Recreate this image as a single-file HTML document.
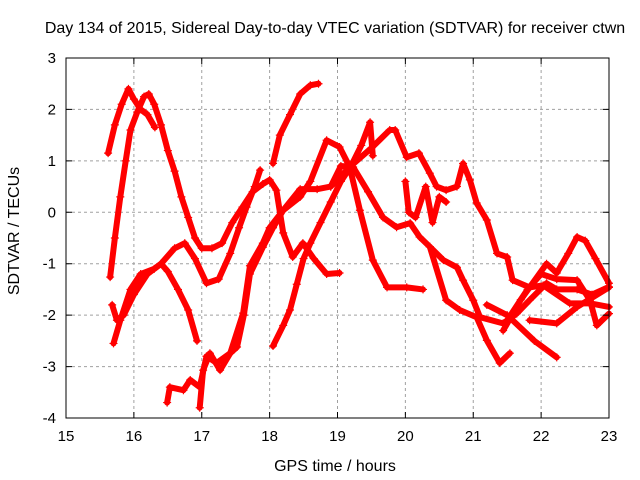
<!DOCTYPE html>
<html><head><meta charset="utf-8"><style>
body{margin:0;background:#fff}
svg{display:block;font-family:"Liberation Sans",sans-serif}
</style></head><body>
<svg id="chart" width="640" height="480" xmlns="http://www.w3.org/2000/svg">
<rect width="640" height="480" fill="#fff"/>
<text x="335" y="33" font-size="16" text-anchor="middle">Day 134 of 2015, Sidereal Day-to-day VTEC variation (SDTVAR) for receiver ctwn</text>
<text x="335" y="471" font-size="16" text-anchor="middle">GPS time / hours</text>
<text x="19" y="231" font-size="16" text-anchor="middle" transform="rotate(-90 19 231)">SDTVAR / TECUs</text>
<g id="grid"></g><g id="series"></g><g id="axes"></g>
</svg>
<script>
const xTicks=[15,16,17,18,19,20,21,22,23];
const yTicks=[-4,-3,-2,-1,0,1,2,3];
const sA=[[15.62,1.15],[15.72,1.7],[15.82,2.1],[15.92,2.4],[16.0,2.2],[16.1,2.0],[16.2,1.9],[16.31,1.65]];
const sB=[[15.65,-1.26],[15.72,-0.5],[15.8,0.3],[15.88,1.0],[15.95,1.6],[16.05,1.95],[16.15,2.25],[16.22,2.3],[16.3,2.1],[16.4,1.7],[16.5,1.2],[16.6,0.8],[16.7,0.3],[16.8,-0.1],[16.9,-0.5],[17.0,-0.7],[17.15,-0.7],[17.3,-0.6],[17.45,-0.2],[17.6,0.1],[17.75,0.4],[17.9,0.55],[18.0,0.63],[18.1,0.43],[18.2,-0.4],[18.34,-0.87],[18.49,-0.6],[18.65,-0.9],[18.84,-1.2],[19.03,-1.18]];
const sC=[[15.68,-1.8],[15.75,-2.1],[15.85,-2.0],[16.0,-1.6],[16.2,-1.2],[16.4,-1.0],[16.6,-0.7],[16.75,-0.6],[16.9,-0.9],[17.07,-1.38],[17.25,-1.3],[17.42,-0.8],[17.55,-0.3],[17.66,0.1],[17.78,0.5],[17.86,0.82]];
const sD=[[15.7,-2.55],[15.8,-2.1],[15.95,-1.5],[16.1,-1.2],[16.3,-1.1],[16.4,-1.0],[16.5,-1.15],[16.65,-1.5],[16.8,-1.9],[16.93,-2.5]];
const sE=[[16.49,-3.7],[16.53,-3.4],[16.73,-3.46],[16.83,-3.26],[16.97,-3.4],[17.07,-2.8],[17.22,-2.93],[17.42,-2.74],[17.52,-2.62],[17.62,-2.0],[17.71,-1.2],[17.9,-0.68],[18.05,-0.3],[18.2,0.04],[18.45,0.45],[18.7,0.45],[18.9,0.5],[19.18,0.88],[19.5,1.25],[19.77,1.6],[19.85,1.6],[20.02,1.07],[20.2,1.15],[20.36,0.76],[20.46,0.5],[20.6,0.43],[20.76,0.5],[20.85,0.95],[20.95,0.63],[21.05,0.18],[21.2,-0.15],[21.35,-0.8],[21.5,-0.87],[21.58,-1.32],[21.83,-1.46],[22.03,-1.42],[22.42,-1.77],[22.72,-1.77],[23.0,-1.84]];
const sF=[[16.97,-3.8],[17.02,-3.07],[17.12,-2.74],[17.27,-3.07],[17.42,-2.74],[17.61,-1.96],[17.71,-1.04],[17.9,-0.6],[18.0,-0.3],[18.2,0.04],[18.45,0.3],[18.6,0.6],[18.84,1.4],[19.03,1.27],[19.18,0.88],[19.33,0.04],[19.52,-0.93],[19.73,-1.46],[20.02,-1.46],[20.26,-1.5]];
const sG=[[18.05,0.95],[18.15,1.5],[18.3,1.9],[18.45,2.3],[18.6,2.47],[18.72,2.5]];
const sH=[[18.05,-2.6],[18.2,-2.2],[18.3,-1.9],[18.4,-1.4],[18.5,-0.9],[18.6,-0.6],[18.75,-0.2],[18.9,0.2],[19.05,0.6],[19.2,0.9],[19.35,1.3],[19.48,1.75],[19.52,1.1]];
const sI=[[18.9,0.5],[19.05,0.9],[19.23,0.88],[19.45,0.4],[19.67,-0.1],[19.87,-0.29],[20.07,-0.21],[20.21,-0.48],[20.36,-0.67],[20.56,-0.93],[20.76,-1.07],[20.85,-1.32],[21.0,-1.71],[21.1,-2.04],[21.44,-2.16],[21.64,-1.97],[21.83,-1.71],[22.08,-1.38],[22.23,-1.5],[22.53,-1.5],[22.75,-1.6],[23.0,-1.45]];
const sJ=[[20.36,-0.67],[20.6,-1.71],[20.8,-1.9],[21.05,-2.04],[21.2,-2.49],[21.39,-2.93],[21.54,-2.74]];
const sK=[[21.44,-2.3],[21.7,-1.7],[22.08,-1.0],[22.23,-1.18],[22.4,-0.8],[22.53,-0.48],[22.65,-0.55],[22.8,-0.9],[23.0,-1.38]];
const sL=[[21.83,-2.1],[22.23,-2.16],[22.53,-1.84],[23.0,-1.46]];
const sM=[[21.5,-2.1],[21.8,-1.5],[22.0,-1.2],[22.23,-1.3],[22.53,-1.32],[22.72,-1.71],[22.82,-2.2],[23.0,-1.97]];
const sN=[[20.0,0.6],[20.05,0.0],[20.15,-0.1],[20.3,0.5],[20.4,-0.2],[20.5,0.3],[20.6,0.2]];
const sO=[[21.2,-1.8],[21.5,-2.0],[21.9,-2.5],[22.23,-2.82]];
const seriesList=[sA,sB,sC,sD,sE,sF,sG,sH,sI,sJ,sK,sL,sM,sN,sO];

const X0=66,X1=609,Y0=418,Y1=58,xmin=15,xmax=23,ymin=-4,ymax=3;
const xs=v=>X0+(v-xmin)*(X1-X0)/(xmax-xmin);
const ys=v=>Y0-(v-ymin)*(Y0-Y1)/(ymax-ymin);
const NS="http://www.w3.org/2000/svg";
function mk(t,a,p){const e=document.createElementNS(NS,t);for(const k in a)e.setAttribute(k,a[k]);p.appendChild(e);return e;}
const grid=document.getElementById('grid'),axes=document.getElementById('axes'),ser=document.getElementById('series');
xTicks.forEach(t=>{
  const x=xs(t);
  if(t>xmin&&t<xmax){const g=mk('line',{x1:x,x2:x,y1:Y1,y2:Y0,stroke:'#a0a0a0','stroke-dasharray':'3,3','stroke-width':1},grid);
  
  }
  const tk=mk('path',{d:`M${x},${Y0}v-6M${x},${Y1}v6`,stroke:'#000'},axes);
  
  
  const l=mk('text',{x:x,y:Y0+23,'font-size':15,'text-anchor':'middle'},axes);l.textContent=t;
  
  
});
yTicks.forEach(t=>{
  const y=ys(t);
  if(t>ymin&&t<ymax){const g=mk('line',{x1:X0,x2:X1,y1:y,y2:y,stroke:'#a0a0a0','stroke-dasharray':'3,3','stroke-width':1},grid);
  
  }
  const tk=mk('path',{d:`M${X0},${y}h6M${X1},${y}h-6`,stroke:'#000'},axes);
  
  
  const l=mk('text',{x:X0-10,y:y+5,'font-size':15,'text-anchor':'end'},axes);l.textContent=t;
  
  
});
const fr=mk('rect',{x:X0,y:Y1,width:X1-X0,height:Y0-Y1,fill:'none',stroke:'#000'},axes);


seriesList.forEach((s,i)=>{
  const g=mk('g',{},ser);
  
  
  mk('polyline',{points:s.map(p=>xs(p[0])+','+ys(p[1])).join(' '),fill:'none',stroke:'#f00','stroke-width':6,'stroke-linejoin':'round','stroke-linecap':'round'},g);
  s.forEach(p=>{
    const m=mk('path',{d:`M${xs(p[0])-4},${ys(p[1])}h8M${xs(p[0])},${ys(p[1])-4}v8`,stroke:'#f00','stroke-width':1.2},g);
    
    
  });
});
</script>
</body></html>
